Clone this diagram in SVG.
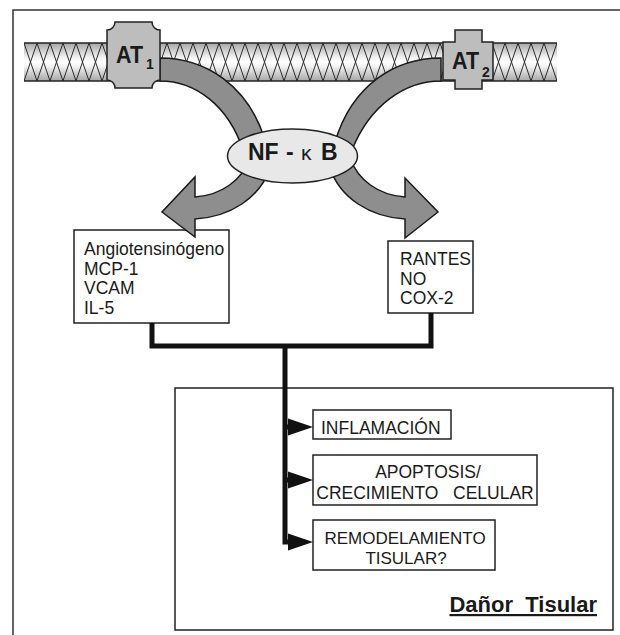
<svg xmlns="http://www.w3.org/2000/svg" width="620" height="635" viewBox="0 0 620 635">
<defs>
<style>
.frame{fill:none;stroke:#333;stroke-width:1.5}
.box{fill:#fff;stroke:#222;stroke-width:1.5}
.rec{fill:#bdbdbd;stroke:#222;stroke-width:1.5}
.arr{fill:#8e8e8e;stroke:#1a1a1a;stroke-width:1.5;stroke-linejoin:miter}
.t{font-family:"Liberation Sans",Arial,sans-serif;fill:#1a1a1a}
.conn{fill:none;stroke:#111;stroke-width:5;stroke-linejoin:miter;stroke-linecap:butt}
.head{fill:#111}
</style>
<linearGradient id="bandGrad" x1="0" y1="0" x2="0" y2="1">
<stop offset="0" stop-color="#a6a6a6"/>
<stop offset="0.38" stop-color="#f2f2f2"/>
<stop offset="0.5" stop-color="#ffffff"/>
<stop offset="0.62" stop-color="#f2f2f2"/>
<stop offset="1" stop-color="#a6a6a6"/>
</linearGradient>
<pattern id="zig" patternUnits="userSpaceOnUse" x="24" y="43" width="26" height="38">
<polyline points="0,0 13,38 26,0" fill="none" stroke="#2a2a2a" stroke-width="1"/>
<polyline points="0,38 13,0 26,38" fill="none" stroke="#2a2a2a" stroke-width="1"/>
</pattern>
</defs>

<g id="frame">
<path class="frame" d="M13,635 V10 H620"/>
</g>

<g id="membrane">
<rect x="24" y="43" width="533" height="38" fill="url(#bandGrad)"/>
<rect x="24" y="43" width="533" height="38" fill="url(#zig)"/>
<line x1="24" y1="43" x2="557" y2="43" stroke="#222" stroke-width="1.5"/>
<line x1="24" y1="81" x2="557" y2="81" stroke="#222" stroke-width="1.5"/>
</g>

<g id="upper-arrows">
<path class="arr" d="M160,58 C205,58 248,85 265,140 L243,150 C228,105 195,81 160,81 Z"/>
<path class="arr" d="M441,58 C395,58 352,85 335,142 L352,150 C370,105 405,81 441,81 Z"/>
</g>

<g id="at1">
<path class="rec" d="M115,22 H152 A8,8 0 0 0 160,30 V80 A8,8 0 0 0 152,88 H115 A8,8 0 0 0 107,80 V30 A8,8 0 0 0 115,22 Z"/>
<text class="t" x="116" y="63" font-size="24" font-weight="bold" textLength="27" lengthAdjust="spacingAndGlyphs">AT</text>
<text class="t" x="146" y="69" font-size="14" font-weight="bold">1</text>
</g>

<g id="at2">
<path class="rec" d="M455,30 H482 V42 H493 V80 H482 V89 H455 V80 H443 V42 H455 Z"/>
<text class="t" x="452" y="69" font-size="24" font-weight="bold" textLength="27" lengthAdjust="spacingAndGlyphs">AT</text>
<text class="t" x="482" y="77" font-size="14" font-weight="bold">2</text>
</g>

<g id="box-genes">
<rect class="box" x="74" y="230" width="155" height="93"/>
<text class="t" font-size="17.5"><tspan x="84" y="255">Angiotensinógeno</tspan><tspan x="84" y="274.5">MCP-1</tspan><tspan x="84" y="294">VCAM</tspan><tspan x="84" y="313.5">IL-5</tspan></text>
</g>

<g id="box-rantes">
<rect class="box" x="388" y="241" width="85" height="72"/>
<text class="t" font-size="17.5"><tspan x="400" y="265">RANTES</tspan><tspan x="400" y="284.5">NO</tspan><tspan x="400" y="304">COX-2</tspan></text>
</g>

<g id="lower-arrows">
<path class="arr" d="M250,158 C242,180 222,195 195,197 L195,177 L162,212 L195,237 L195,219 C230,217 260,198 270,168 Z"/>
<path class="arr" d="M350,158 C358,180 378,195 405,197 L405,178 L438,212 L405,238 L405,219 C370,217 340,198 330,168 Z"/>
</g>

<g id="nfkb">
<ellipse cx="292.5" cy="156" rx="65" ry="27" fill="#e8e8e8" stroke="#222" stroke-width="1.5"/>
<text class="t" font-size="23" font-weight="bold" y="160"><tspan x="248">NF</tspan><tspan x="286">-</tspan><tspan x="301" font-weight="normal" font-size="21">κ</tspan><tspan x="321">B</tspan></text>
</g>

<g id="box-dano">
<rect class="box" x="175" y="388" width="438" height="242"/>
<text class="t" x="597" y="612" font-size="22" font-weight="bold" text-anchor="end" text-decoration="underline" xml:space="preserve">Dañor  Tisular</text>
</g>

<g id="box-inflamacion">
<rect class="box" x="313" y="410" width="138" height="29"/>
<text class="t" x="321" y="434" font-size="17.5">INFLAMACIÓN</text>
</g>

<g id="box-apoptosis">
<rect class="box" x="313" y="455" width="224" height="50"/>
<text class="t" font-size="17.5" text-anchor="middle" xml:space="preserve"><tspan x="428" y="478">APOPTOSIS/</tspan><tspan x="425" y="499">CRECIMIENTO   CELULAR</tspan></text>
</g>

<g id="box-remodelamiento">
<rect class="box" x="313" y="520" width="182" height="50"/>
<text class="t" font-size="17" text-anchor="middle"><tspan x="405" y="544">REMODELAMIENTO</tspan><tspan x="406" y="564">TISULAR?</tspan></text>
</g>

<g id="connectors">
<path class="conn" d="M152,323 V346 H431 V313"/>
<path class="conn" d="M285,346 V542 H292"/>
<line class="conn" x1="285" y1="427" x2="292" y2="427"/>
<line class="conn" x1="285" y1="480" x2="292" y2="480"/>
<polygon class="head" points="288,418.5 313,427 288,435.5"/>
<polygon class="head" points="288,471.5 313,480 288,488.5"/>
<polygon class="head" points="288,533.5 313,542 288,550.5"/>
</g>
</svg>
